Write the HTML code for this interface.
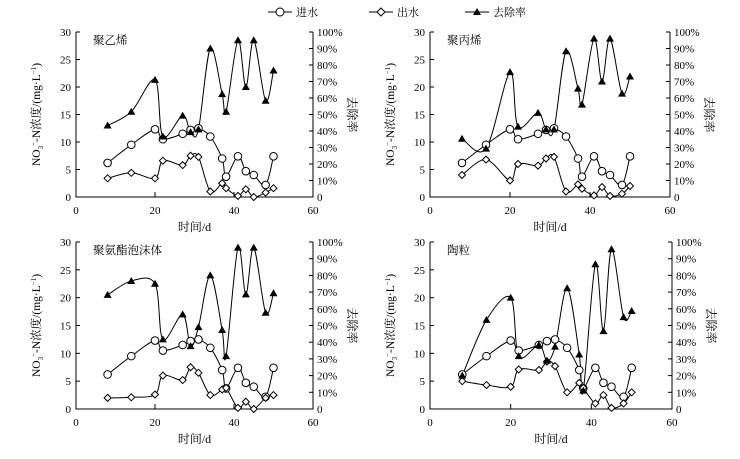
<!DOCTYPE html>
<html><head><meta charset="utf-8"><style>
body{margin:0;background:#fff;}
svg text{font-family:"Liberation Serif","Noto Serif CJK SC",serif;fill:#000;}
</style></head><body>
<svg id="s" width="740" height="454" viewBox="0 0 740 454" xmlns="http://www.w3.org/2000/svg">
<g font-size="11">
<line x1="268" y1="12" x2="292" y2="12" stroke="#000"/><circle cx="280" cy="12" r="4" fill="#fff" stroke="#000"/><text x="296" y="16">进水</text>
<line x1="369" y1="12" x2="393" y2="12" stroke="#000"/><path d="M381 8 L385 12 L381 16 L377 12Z" fill="#fff" stroke="#000"/><text x="397" y="16">出水</text>
<line x1="465" y1="12" x2="489" y2="12" stroke="#000"/><path d="M477 8 L481 15 L473 15Z" fill="#000"/><text x="493" y="16">去除率</text>
</g>
</svg>
<script>
const T=[8,14,20,22,27,29,31,34,37,38,41,43,45,48,50];
const IN=[6.2,9.5,12.3,10.5,11.5,12.2,12.5,11,7,3.7,7.4,4.7,4,2.2,7.4];
const P=[
{x0:76,x1:313,y0:197,y1:32,t:"聚乙烯",
 o:[3.4,4.4,3.4,6.6,5.8,7.5,7.3,1,2.5,1.6,0.2,1.4,0,0.8,1.6],
 r:[13,15.5,21.3,11,14.8,11.8,12.3,27,18.7,15.5,28.5,20,28.5,17.5,23]},
{x0:430,x1:670,y0:197,y1:32,t:"聚丙烯",
 o:[4,6.8,3,6,5.7,7,7.3,1,2.3,1.5,0.3,1.8,0.2,0.6,2],
 r:[10.6,8.8,22.7,12.8,15.3,12.3,12.3,26.5,19.7,16.8,28.8,21,28.8,18.8,21.9]},
{x0:76,x1:313,y0:409,y1:242,t:"聚氨酯泡沫体",
 o:[2,2.1,2.6,6,5.2,7.5,6.5,2.5,3.5,3.8,0.2,1.3,0,2,2.5],
 r:[20.5,23,22.5,12.5,17,11.3,14.7,24,14.2,9.5,29,20.6,29,17.3,20.8]},
{x0:430,x1:672,y0:409,y1:242,t:"陶粒",
 o:[5,4.3,4,7.1,7,8.5,7.7,3,4.7,3.8,1,2.5,0.2,1,3],
 r:[6,16,20,9.5,11.5,8.7,11.2,21.7,9.8,3.3,26,14,28.7,16.5,17.6]}];
let h='';
function path(pts){let d='M'+pts[0];for(let i=0;i<pts.length-1;i++){const p0=pts[i-1]||pts[i],p1=pts[i],p2=pts[i+1],p3=pts[i+2]||p2;
d+=' C'+(p1[0]+(p2[0]-p0[0])/6)+','+(p1[1]+(p2[1]-p0[1])/6)+' '+(p2[0]-(p3[0]-p1[0])/6)+','+(p2[1]-(p3[1]-p1[1])/6)+' '+p2;}return d;}
for(const p of P){
 const X=v=>p.x0+(p.x1-p.x0)*v/60, Y=v=>p.y0+(p.y1-p.y0)*v/30;
 h+=`<path d="M${p.x0},${p.y1}V${p.y0}H${p.x1}V${p.y1}" fill="none" stroke="#000"/>`;
 for(let v=0;v<=30;v+=5){h+=`<line x1="${p.x0}" x2="${p.x0+4}" y1="${Y(v)}" y2="${Y(v)}" stroke="#000"/><text x="${p.x0-5}" y="${Y(v)+4}" font-size="11" text-anchor="end">${v}</text>`;}
 for(let k=0;k<=10;k++){const y=p.y0+(p.y1-p.y0)*k/10;h+=`<line x1="${p.x1}" x2="${p.x1-4}" y1="${y}" y2="${y}" stroke="#000"/><text x="${p.x1+4}" y="${y+4}" font-size="11">${k*10}${k?'%':''}</text>`;}
 for(let v=0;v<=60;v+=20){h+=`<line x1="${X(v)}" x2="${X(v)}" y1="${p.y0}" y2="${p.y0-5}" stroke="#000"/><text x="${X(v)}" y="${p.y0+17}" font-size="11" text-anchor="middle">${v}</text>`;}
 h+=`<text x="${(p.x0+p.x1)/2}" y="${p.y0+34}" font-size="12" text-anchor="middle">时间/d</text>`;
 h+=`<text x="${p.x0+17}" y="${p.y1+12}" font-size="11.5">${p.t}</text>`;
 const cy=(p.y0+p.y1)/2;
 h+=`<text transform="translate(${p.x0-36},${cy}) rotate(-90)" font-size="11.5" text-anchor="middle">NO<tspan font-size="7" dy="3">3</tspan><tspan font-size="7" dy="-7">−</tspan><tspan dy="4">-N浓度/(mg·L</tspan><tspan font-size="7" dy="-4">−1</tspan><tspan dy="4">)</tspan></text>`;
 h+=`<text transform="translate(${p.x1+35},${cy}) rotate(90)" font-size="12" text-anchor="middle">去除率</text>`;
 const pi=T.map((t,i)=>[X(t),Y(IN[i])]),po=T.map((t,i)=>[X(t),Y(p.o[i])]),pr=T.map((t,i)=>[X(t),Y(p.r[i])]);
 for(const a of [pi,po,pr])h+=`<path d="${path(a)}" fill="none" stroke="#000" stroke-width="1"/>`;
 pi.forEach(q=>h+=`<circle cx="${q[0]}" cy="${q[1]}" r="3.8" fill="#fff" stroke="#000"/>`);
 po.forEach(q=>h+=`<path d="M${q[0]},${q[1]-3.5}L${q[0]+3.5},${q[1]}L${q[0]},${q[1]+3.5}L${q[0]-3.5},${q[1]}Z" fill="#fff" stroke="#000"/>`);
 pr.forEach(q=>h+=`<path d="M${q[0]},${q[1]-4}L${q[0]+4},${q[1]+3}L${q[0]-4},${q[1]+3}Z" fill="#000"/>`);
}
document.getElementById('s').insertAdjacentHTML('beforeend',h);
</script>
</body></html>
